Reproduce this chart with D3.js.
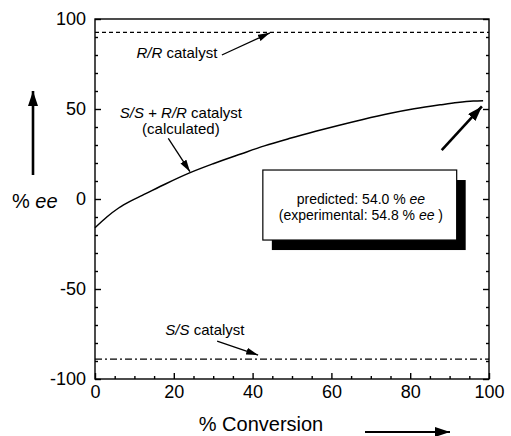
<!DOCTYPE html>
<html>
<head>
<meta charset="UTF-8">
<title>ee vs conversion</title>
<script src="https://cdn.jsdelivr.net/npm/d3@7"></script>
<style>
  body { margin: 0; background: #fff; }
  svg { font-family: "Liberation Sans", Arial, Helvetica, sans-serif; }
  .axis path, .axis line { stroke: #000; stroke-width: 1.4px; }
  .axis text { font-size: 18px; fill: #000; }
  .note { font-size: 15px; fill: #000; }
</style>
</head>
<body>
<svg width="511" height="436"></svg>
<script>
// data
var conversion = [0, 3, 6, 9, 12, 18, 24, 30, 37, 43, 49.5, 56, 62, 68, 75, 81, 87.6, 92, 96, 98.5];
var eeCalc     = [-16, -10, -5, -1.2, 2, 8.5, 14.5, 19.6, 25, 29.5, 33.7, 37.6, 41, 44.2, 47.6, 50.1, 52.3, 53.6, 54.4, 54.6];
var rrLevel = 92.6;    // R/R catalyst
var ssLevel = -89;     // S/S catalyst
var xTicks = [0, 20, 40, 60, 80, 100];
var yTicks = [-100, -50, 0, 50, 100];

var svg = d3.select("svg"),
    margin = {top: 19, right: 22, bottom: 57, left: 95},
    width = +svg.attr("width") - margin.left - margin.right,
    height = +svg.attr("height") - margin.top - margin.bottom;

var g = svg.append("g").attr("transform", "translate(" + margin.left + "," + margin.top + ")");

var x = d3.scaleLinear().domain([0, 100]).range([0, width]);
var y = d3.scaleLinear().domain([-100, 100]).range([height, 0]);

// arrow heads
var defs = svg.append("defs");
function head(id, len, wid) {
    defs.append("marker")
        .attr("id", id)
        .attr("viewBox", "0 -" + wid / 2 + " " + len + " " + wid)
        .attr("refX", len).attr("refY", 0)
        .attr("markerUnits", "userSpaceOnUse")
        .attr("markerWidth", len).attr("markerHeight", wid)
        .attr("orient", "auto")
        .append("path")
        .attr("d", "M0," + (-wid / 2) + "L" + len + ",0L0," + (wid / 2) + "Z")
        .attr("fill", "#000");
}
head("small", 12, 7);
head("big", 15, 10);

// frame
g.append("rect").attr("width", width).attr("height", height)
    .attr("fill", "none").attr("stroke", "#000").attr("stroke-width", 1.4);

// minor ticks
var minorX = d3.range(0, 101, 5).filter(function (d) { return d % 20 !== 0; });
var minorY = d3.range(-100, 101, 10).filter(function (d) { return d % 50 !== 0; });

g.append("g").attr("class", "axis").attr("transform", "translate(0," + height + ")")
    .call(d3.axisBottom(x).tickValues(minorX).tickSize(-3).tickFormat(""))
    .select(".domain").remove();
g.append("g").attr("class", "axis")
    .call(d3.axisLeft(y).tickValues(minorY).tickSize(-3).tickFormat(""))
    .select(".domain").remove();
g.append("g").attr("class", "axis").attr("transform", "translate(" + width + ",0)")
    .call(d3.axisRight(y).tickValues(minorY).tickSize(-3).tickFormat(""))
    .select(".domain").remove();

// major ticks
g.append("g").attr("class", "axis").attr("transform", "translate(0," + height + ")")
    .call(d3.axisBottom(x).tickValues(xTicks).tickSize(-6).tickPadding(6).tickSizeOuter(0).tickFormat(String))
    .select(".domain").remove();
g.append("g").attr("class", "axis")
    .call(d3.axisLeft(y).tickValues(yTicks).tickSize(-6).tickPadding(9).tickSizeOuter(0).tickFormat(String))
    .select(".domain").remove();
g.append("g").attr("class", "axis").attr("transform", "translate(" + width + ",0)")
    .call(d3.axisRight(y).tickValues(yTicks).tickSize(-6).tickFormat("").tickSizeOuter(0))
    .select(".domain").remove();

// reference lines
g.append("line")
    .attr("x1", x(0)).attr("x2", x(100)).attr("y1", y(rrLevel)).attr("y2", y(rrLevel))
    .attr("stroke", "#000").attr("stroke-width", 1.2).attr("stroke-dasharray", "4,3");
g.append("line")
    .attr("x1", x(0)).attr("x2", x(100)).attr("y1", y(ssLevel)).attr("y2", y(ssLevel))
    .attr("stroke", "#000").attr("stroke-width", 1.2).attr("stroke-dasharray", "7,3,2,3");

// calculated curve
var line = d3.line()
    .x(function (d, i) { return x(conversion[i]); })
    .y(function (d) { return y(d); })
    .curve(d3.curveMonotoneX);
g.append("path").datum(eeCalc)
    .attr("d", line)
    .attr("fill", "none").attr("stroke", "#000").attr("stroke-width", 1.5);

// annotations (data coordinates)
function arrow(x1, y1, x2, y2, w, m) {
    g.append("line")
        .attr("x1", x(x1)).attr("y1", y(y1)).attr("x2", x(x2)).attr("y2", y(y2))
        .attr("stroke", "#000").attr("stroke-width", w)
        .attr("marker-end", "url(#" + m + ")");
}
function label(cx, cy, parts, size) {
    var t = g.append("text").attr("class", "note")
        .attr("x", x(cx)).attr("y", y(cy))
        .attr("text-anchor", "middle")
        .style("font-size", size + "px");
    parts.forEach(function (p) {
        t.append("tspan").text(p[0]).style("font-style", p[1] ? "italic" : "normal");
    });
}

label(20.8, 78.3, [["R/R", true], [" catalyst", false]], 15);
arrow(32.2, 80, 44.4, 92.3, 1.3, "small");

label(21.8, 44.8, [["S/S", true], [" + ", false], ["R/R", true], [" catalyst", false]], 15);
label(21.8, 36.2, [["(calculated)", false]], 15);
arrow(18.6, 33.7, 24.1, 15.2, 1.3, "small");

label(27.9, -75.6, [["S/S", true], [" catalyst", false]], 15);
arrow(31, -78.9, 41.4, -86.7, 1.3, "small");

arrow(88, 27.2, 98.2, 51.4, 2.6, "big");

// result box with shadow
var bx0 = 42.6, bx1 = 91.8, by0 = 16.1, by1 = -22.8;
g.append("rect")
    .attr("x", x(bx0) + 9).attr("y", y(by0) + 10)
    .attr("width", x(bx1) - x(bx0)).attr("height", y(by1) - y(by0))
    .attr("fill", "#000");
g.append("rect")
    .attr("x", x(bx0)).attr("y", y(by0))
    .attr("width", x(bx1) - x(bx0)).attr("height", y(by1) - y(by0))
    .attr("fill", "#fff").attr("stroke", "#000").attr("stroke-width", 1.2);
label(67.5, -2.8, [["predicted: 54.0 % ", false], ["ee", true]], 14);
label(67.5, -11.7, [["(experimental: 54.8 % ", false], ["ee", true], [" )", false]], 14);

// axis titles
svg.append("text")
    .attr("x", 12).attr("y", 208)
    .style("font-size", "20px")
    .html('% <tspan font-style="italic">ee</tspan>');
svg.append("line")
    .attr("x1", 33).attr("y1", 175).attr("x2", 33).attr("y2", 91)
    .attr("stroke", "#000").attr("stroke-width", 2.6).attr("marker-end", "url(#big)");

svg.append("text")
    .attr("x", 261).attr("y", 431)
    .attr("text-anchor", "middle")
    .style("font-size", "20px")
    .text("% Conversion");
svg.append("line")
    .attr("x1", 365).attr("y1", 432).attr("x2", 450).attr("y2", 432)
    .attr("stroke", "#000").attr("stroke-width", 2.2).attr("marker-end", "url(#big)");
</script>
</body>
</html>
